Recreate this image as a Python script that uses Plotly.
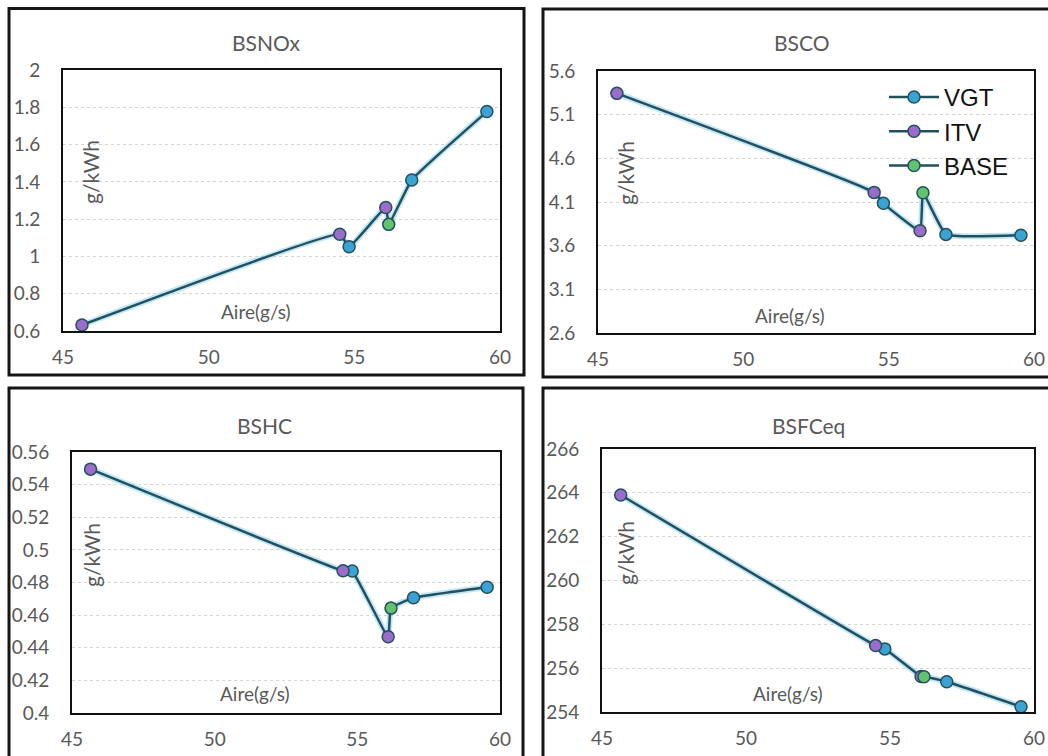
import plotly.graph_objects as go

W, H = 1048, 756

# Air mass flow (g/s) for each configuration
air_vgt = [54.82, 56.97, 59.55]
air_itv = [45.65, 54.50, 56.08]
air_base = [56.18]

# Brake-specific emissions / consumption (g/kWh)
bsnox_vgt = [1.052, 1.410, 1.777]
bsnox_itv = [0.632, 1.119, 1.262]
bsnox_base = [1.172]

bsco_vgt = [4.085, 3.729, 3.720]
bsco_itv = [5.344, 4.210, 3.770]
bsco_base = [4.206]

bshc_vgt = [0.4870, 0.4706, 0.4771]
bshc_itv = [0.5495, 0.4872, 0.4467]
bshc_base = [0.4643]

bsfc_vgt = [256.88, 255.38, 254.24]
bsfc_itv = [263.90, 257.03, 255.62]
bsfc_base = [255.61]

x_ticks = [45, 50, 55, 60]
bsnox_ticks = [0.6, 0.8, 1, 1.2, 1.4, 1.6, 1.8, 2]
bsnox_labels = ["0.6", "0.8", "1", "1.2", "1.4", "1.6", "1.8", "2"]
bsco_ticks = [2.6, 3.1, 3.6, 4.1, 4.6, 5.1, 5.6]
bsco_labels = ["2.6", "3.1", "3.6", "4.1", "4.6", "5.1", "5.6"]
bshc_ticks = [0.40, 0.42, 0.44, 0.46, 0.48, 0.50, 0.52, 0.54, 0.56]
bshc_labels = ["0.4", "0.42", "0.44", "0.46", "0.48", "0.5", "0.52", "0.54", "0.56"]
bsfc_ticks = [254, 256, 258, 260, 262, 264, 266]
bsfc_labels = ["254", "256", "258", "260", "262", "264", "266"]

series_names = ["VGT", "ITV", "BASE"]
series_air = [air_vgt, air_itv, air_base]
series_fill = ["#3aa3d4", "#9b6cc9", "#62c26e"]

LINE_DARK = "#22505d"
HALO = "rgba(140,210,240,0.55)"
TEXT = "#595959"
FONT = "Lato"

panels = [
    dict(title="BSNOx", values=[bsnox_vgt, bsnox_itv, bsnox_base],
         ticks=bsnox_ticks, labels=bsnox_labels,
         inner=(63, 70, 500, 331), outer=(9, 8.5, 524, 375),
         title_xy=(266, 42), ylab_xy=(91, 172), xlab_xy=(256, 311)),
    dict(title="BSCO", values=[bsco_vgt, bsco_itv, bsco_base],
         ticks=bsco_ticks, labels=bsco_labels,
         inner=(598, 71, 1034, 333), outer=(543, 9, 1062, 377),
         title_xy=(802, 43), ylab_xy=(625, 173), xlab_xy=(790, 315)),
    dict(title="BSHC", values=[bshc_vgt, bshc_itv, bshc_base],
         ticks=bshc_ticks, labels=bshc_labels,
         inner=(72, 452, 500, 713), outer=(9, 388, 523, 775),
         title_xy=(264, 425), ylab_xy=(91, 555), xlab_xy=(255, 693)),
    dict(title="BSFCeq", values=[bsfc_vgt, bsfc_itv, bsfc_base],
         ticks=bsfc_ticks, labels=bsfc_labels,
         inner=(602, 449, 1034, 712), outer=(543, 388, 1062, 775),
         title_xy=(808, 425), ylab_xy=(625, 553), xlab_xy=(788, 693)),
]


def px_x(x):
    return x / W


def px_y(y):
    return 1 - y / H


fig = go.Figure()
layout = dict(
    width=W, height=H, autosize=False,
    margin=dict(l=0, r=0, t=0, b=0, pad=0, autoexpand=False),
    paper_bgcolor="white", plot_bgcolor="white",
    font=dict(family=FONT, color=TEXT),
    showlegend=True,
    shapes=[], annotations=[],
)

for i, p in enumerate(panels, start=1):
    xa = "x" if i == 1 else f"x{i}"
    ya = "y" if i == 1 else f"y{i}"

    # one path through every operating point, ordered by air flow
    pts = []
    for air, vals in zip(series_air, p["values"]):
        pts.extend(zip(air, vals))
    pts.sort(key=lambda t: t[0])
    lx = [t[0] for t in pts]
    ly = [t[1] for t in pts]

    fig.add_trace(go.Scatter(x=lx, y=ly, mode="lines", xaxis=xa, yaxis=ya,
                             line=dict(color=HALO, width=6, shape="spline", smoothing=0.35),
                             hoverinfo="skip", showlegend=False, cliponaxis=False))
    fig.add_trace(go.Scatter(x=lx, y=ly, mode="lines", xaxis=xa, yaxis=ya,
                             line=dict(color=LINE_DARK, width=2.5, shape="spline", smoothing=0.35),
                             hoverinfo="skip", showlegend=False, cliponaxis=False))

    for name, air, vals, col in zip(series_names, series_air, p["values"], series_fill):
        fig.add_trace(go.Scatter(x=air, y=vals, mode="markers", xaxis=xa, yaxis=ya,
                                 name=name, showlegend=False, cliponaxis=False,
                                 marker=dict(size=12, color=col,
                                             line=dict(color=LINE_DARK, width=1.5))))

    x0, y0, x1, y1 = p["inner"]
    layout["xaxis" if i == 1 else f"xaxis{i}"] = dict(
        domain=[px_x(x0), px_x(x1)], anchor=ya, range=[45, 60],
        tickvals=x_ticks, ticks="", ticklabelstandoff=8, automargin=False,
        showgrid=False, zeroline=False,
        showline=True, mirror=True, linecolor="#111111", linewidth=2,
        tickfont=dict(family=FONT, size=19, color=TEXT),
    )
    layout["yaxis" if i == 1 else f"yaxis{i}"] = dict(
        domain=[px_y(y1), px_y(y0)], anchor=xa,
        range=[p["ticks"][0], p["ticks"][-1]],
        tickvals=p["ticks"], ticktext=p["labels"], ticks="", ticklabelstandoff=17,
        automargin=False,
        showgrid=True, gridcolor="#d4d4d4", griddash="dot", gridwidth=1,
        zeroline=False,
        showline=True, mirror=True, linecolor="#111111", linewidth=2,
        tickfont=dict(family=FONT, size=19, color=TEXT),
    )

    ox0, oy0, ox1, oy1 = p["outer"]
    layout["shapes"].append(dict(type="rect", xref="paper", yref="paper",
                                 x0=px_x(ox0), x1=px_x(ox1), y0=px_y(oy1), y1=px_y(oy0),
                                 line=dict(color="#151515", width=3), layer="above"))

    tx, ty = p["title_xy"]
    layout["annotations"].append(dict(text=p["title"], xref="paper", yref="paper",
                                      x=px_x(tx), y=px_y(ty), showarrow=False,
                                      xanchor="center", yanchor="middle",
                                      font=dict(family=FONT, size=21, color=TEXT)))
    gx, gy = p["ylab_xy"]
    layout["annotations"].append(dict(text="g/kWh", xref="paper", yref="paper",
                                      x=px_x(gx), y=px_y(gy), showarrow=False, textangle=-90,
                                      xanchor="center", yanchor="middle",
                                      font=dict(family=FONT, size=21, color=TEXT)))
    ax, ay = p["xlab_xy"]
    layout["annotations"].append(dict(text="Aire(g/s)", xref="paper", yref="paper",
                                      x=px_x(ax), y=px_y(ay), showarrow=False,
                                      xanchor="center", yanchor="middle",
                                      font=dict(family=FONT, size=19, color=TEXT)))

# legend entries (line + marker), shown in the BSCO panel
for name, col in zip(series_names, series_fill):
    fig.add_trace(go.Scatter(x=[None], y=[None], mode="lines+markers", name=name,
                             xaxis="x2", yaxis="y2",
                             line=dict(color=LINE_DARK, width=2.5),
                             marker=dict(size=12, color=col, line=dict(color=LINE_DARK, width=1.5))))

layout["legend"] = dict(x=px_x(884), y=px_y(75), xanchor="left", yanchor="top",
                        bgcolor="rgba(0,0,0,0)", borderwidth=0,
                        font=dict(family="Liberation Sans", size=24, color="#111111"),
                        itemwidth=50, tracegroupgap=0)

fig.update_layout(**layout)
fig.write_html("out.html")
